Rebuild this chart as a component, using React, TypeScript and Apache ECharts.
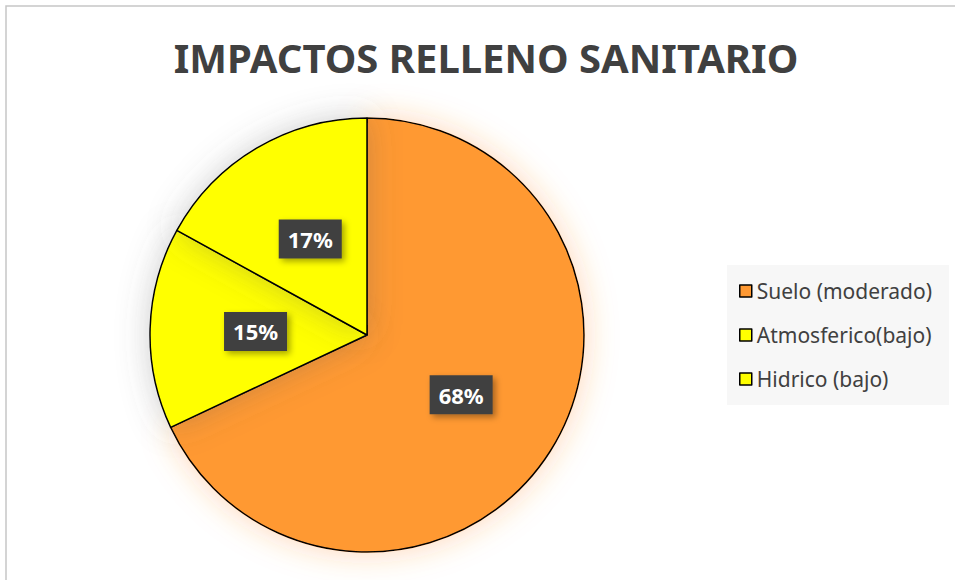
import React, { useEffect, useRef } from "react";
import * as echarts from "echarts";

const titleText = "IMPACTOS RELLENO SANITARIO";
const categories = ["Suelo (moderado)", "Atmosferico(bajo)", "Hidrico (bajo)"];
const values = [68, 15, 17];
const colors = ["#FF9933", "#FFFF00", "#FFFF00"];
const glowColors = ["rgba(255,140,40,0.35)", "rgba(90,90,90,0.3)", "rgba(90,90,90,0.3)"];

const FONT = "'Noto Sans', 'Open Sans', sans-serif";

export default function App() {
  const ref = useRef<HTMLDivElement>(null);
  useEffect(() => {
    if (!ref.current) return;
    const chart = echarts.init(ref.current, null, { renderer: "svg" });
    chart.setOption({
      animation: false,
      backgroundColor: "#ffffff",
      graphic: [
        {
          type: "rect",
          shape: { x: 6, y: 6, width: 1200, height: 1200 },
          style: { fill: "none", stroke: "#c6c6c6", lineWidth: 1.5 },
          silent: true,
        },
        {
          type: "text",
          x: 486,
          y: 57,
          style: {
            text: titleText,
            fill: "#404040",
            font: `bold 40px ${FONT}`,
            textAlign: "center",
            textVerticalAlign: "middle",
          },
        },
      ],
      legend: {
        orient: "vertical",
        left: 727,
        top: 265,
        padding: [15, 17, 15, 12],
        backgroundColor: "#f7f7f7",
        itemWidth: 12,
        itemHeight: 12,
        itemGap: 22,
        icon: "rect",
        itemStyle: { borderColor: "#000", borderWidth: 1.5 },
        textStyle: { fontFamily: FONT, fontSize: 21, color: "#404040", lineHeight: 22 },
        data: categories,
      },
      series: [
        {
          type: "pie",
          center: [367, 335],
          radius: 217,
          startAngle: 90,
          clockwise: true,
          label: {
            show: true,
            position: "inside",
            formatter: "{d}%",
            color: "#ffffff",
            fontFamily: FONT,
            fontWeight: "bold",
            fontSize: 22,
            backgroundColor: "#404040",
            padding: [9, 9, 8, 9],
            shadowColor: "rgba(0,0,0,0.35)",
            shadowBlur: 6,
            shadowOffsetX: 3,
            shadowOffsetY: 3,
          },
          labelLine: { show: false },
          data: categories.map((name, i) => ({
            name,
            value: values[i],
            itemStyle: {
              color: colors[i],
              borderColor: "#000",
              borderWidth: 1.5,
              shadowBlur: 32,
              shadowColor: glowColors[i],
            },
          })),
          emphasis: { disabled: true },
        },
      ],
    });
    return () => chart.dispose();
  }, []);
  return <div ref={ref} style={{ position: "absolute", left: 0, top: 0, width: 955, height: 580 }} />;
}
